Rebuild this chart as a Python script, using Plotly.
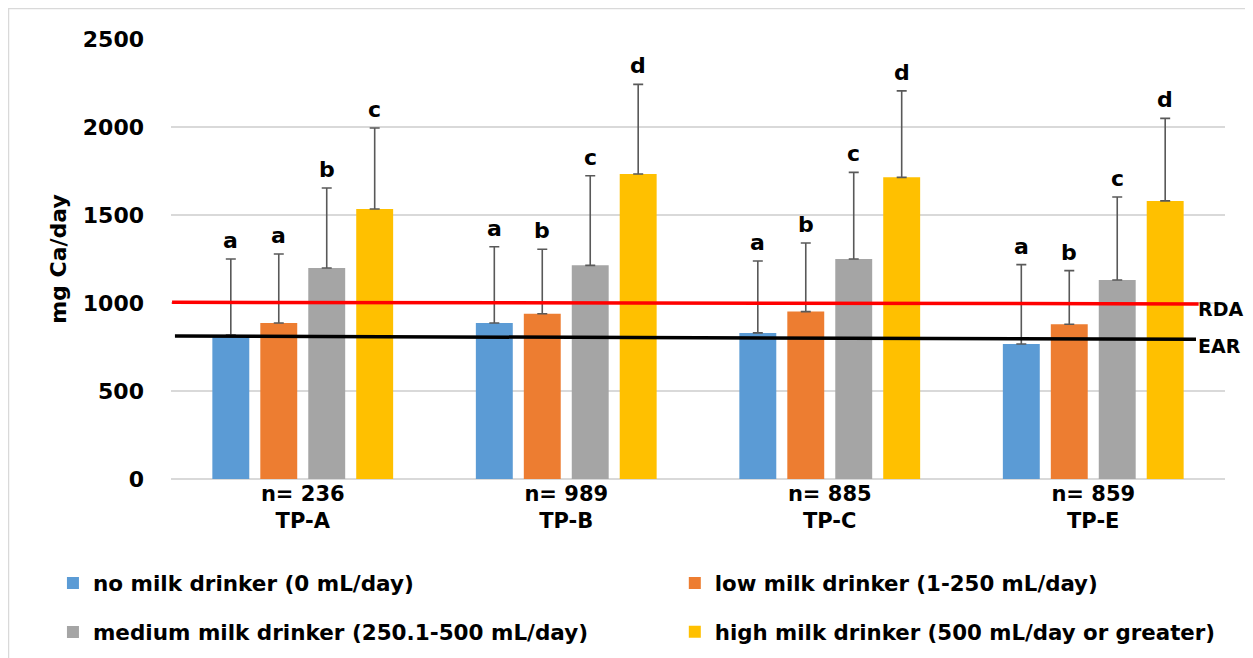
import plotly.graph_objects as go

# ---------------- data ----------------
groups = ["n= 236<br>TP-A", "n= 989<br>TP-B", "n= 885<br>TP-C", "n= 859<br>TP-E"]
series_names = [
    "no milk drinker (0 mL/day)",
    "low milk drinker (1-250 mL/day)",
    "medium milk drinker (250.1-500 mL/day)",
    "high milk drinker (500 mL/day or greater)",
]
colors = ["#5B9BD5", "#ED7D31", "#A5A5A5", "#FFC000"]

no_milk = [818, 886, 830, 767]
low_milk = [886, 939, 951, 879]
medium_milk = [1199, 1214, 1250, 1131]
high_milk = [1534, 1733, 1714, 1580]

no_milk_sd = [432, 434, 409, 451]
low_milk_sd = [392, 366, 390, 305]
medium_milk_sd = [454, 509, 492, 471]
high_milk_sd = [460, 509, 491, 469]

no_milk_letters = ["a", "a", "a", "a"]
low_milk_letters = ["a", "b", "b", "b"]
medium_milk_letters = ["b", "c", "c", "c"]
high_milk_letters = ["c", "d", "d", "d"]

rda_line = [1004, 995]
ear_line = [812, 794]
ref_labels = ["RDA", "EAR"]

y_ticks = [0, 500, 1000, 1500, 2000, 2500]

# ---------------- figure ----------------
FONT = "DejaVu Sans"
means = [no_milk, low_milk, medium_milk, high_milk]
sds = [no_milk_sd, low_milk_sd, medium_milk_sd, high_milk_sd]
letters = [no_milk_letters, low_milk_letters, medium_milk_letters, high_milk_letters]

BARGAP = 0.272
slot = (1 - BARGAP) / 4

fig = go.Figure()
legend_of = ["legend", "legend2", "legend", "legend2"]
for k in range(4):
    fig.add_trace(go.Bar(
        x=groups, y=means[k], name=series_names[k],
        marker=dict(color=colors[k], line=dict(width=0)),
        error_y=dict(type="data", symmetric=False, array=sds[k],
                     arrayminus=[0] * 4, color="#595959",
                     thickness=1.6, width=5),
        legend=legend_of[k], legendgroup=f"g{k}",
        hoverinfo="skip",
    ))

# reference lines on an overlaid numeric axis
fig.add_trace(go.Scatter(x=[-0.496, 3.40], y=rda_line, mode="lines",
                         line=dict(color="#FF0000", width=3.5),
                         xaxis="x2", showlegend=False, hoverinfo="skip"))
fig.add_trace(go.Scatter(x=[-0.485, 3.39], y=ear_line, mode="lines",
                         line=dict(color="#000000", width=3.5),
                         xaxis="x2", showlegend=False, hoverinfo="skip"))

annotations = []
for k in range(4):
    for i in range(4):
        annotations.append(dict(
            x=i + (k - 1.5) * slot, y=means[k][i] + sds[k][i],
            xref="x2", yref="y", text=f"<b>{letters[k][i]}</b>",
            showarrow=False, yanchor="bottom", xanchor="center", yshift=4,
            font=dict(family=FONT, size=22, color="#000000"),
        ))
for lbl, yv, ysh in zip(ref_labels, [rda_line[1], ear_line[1]], [-5, -7]):
    annotations.append(dict(
        x=3.40, y=yv, xref="x2", yref="y", text=f"<b>{lbl}</b>",
        showarrow=False, xanchor="left", yanchor="middle", xshift=-3, yshift=ysh,
        font=dict(family=FONT, size=19, color="#000000"),
    ))

fig.update_layout(
    width=1253, height=658,
    margin=dict(l=163, r=36, t=31, b=187),
    paper_bgcolor="white", plot_bgcolor="white",
    barmode="group", bargap=BARGAP, bargroupgap=0.23,
    font=dict(family=FONT, color="#000000"),
    xaxis=dict(type="category", range=[-0.5, 3.5], showgrid=False,
               showline=False, zeroline=False, ticks="", ticklabelstandoff=0,
               tickfont=dict(family=FONT, size=21, color="#000000", weight="bold"),
               fixedrange=True),
    xaxis2=dict(overlaying="x", range=[-0.5, 3.5], visible=False, fixedrange=True),
    yaxis=dict(range=[0, 2500], tickvals=y_ticks, showgrid=True,
               gridcolor="#D9D9D9", gridwidth=1.5, zeroline=True,
               zerolinecolor="#D9D9D9", zerolinewidth=1.5, showline=False,
               ticks="", ticklabelstandoff=26,
               tickfont=dict(family=FONT, size=22, color="#000000", weight="bold"),
               title=dict(text="<b>mg Ca/day</b>", standoff=10,
                          font=dict(family=FONT, size=22, color="#000000")),
               fixedrange=True),
    legend=dict(x=-0.112, y=-0.19, xanchor="left", yanchor="top",
                orientation="v", tracegroupgap=18, bgcolor="rgba(0,0,0,0)",
                font=dict(family=FONT, size=21.5, color="#000000", weight="bold")),
    legend2=dict(x=0.478, y=-0.19, xanchor="left", yanchor="top",
                 orientation="v", tracegroupgap=18, bgcolor="rgba(0,0,0,0)",
                 font=dict(family=FONT, size=21.3, color="#000000", weight="bold")),
    annotations=annotations,
    shapes=[dict(type="rect", xref="paper", yref="paper",
                 x0=(0.5 - 163) / 1054, x1=(1290 - 163) / 1054,
                 y0=(471 - 700) / 440, y1=(471 - 0.5) / 440,
                 line=dict(color="#D9D9D9", width=1.5), layer="below")],
    showlegend=True,
)

fig.write_html("out.html")
